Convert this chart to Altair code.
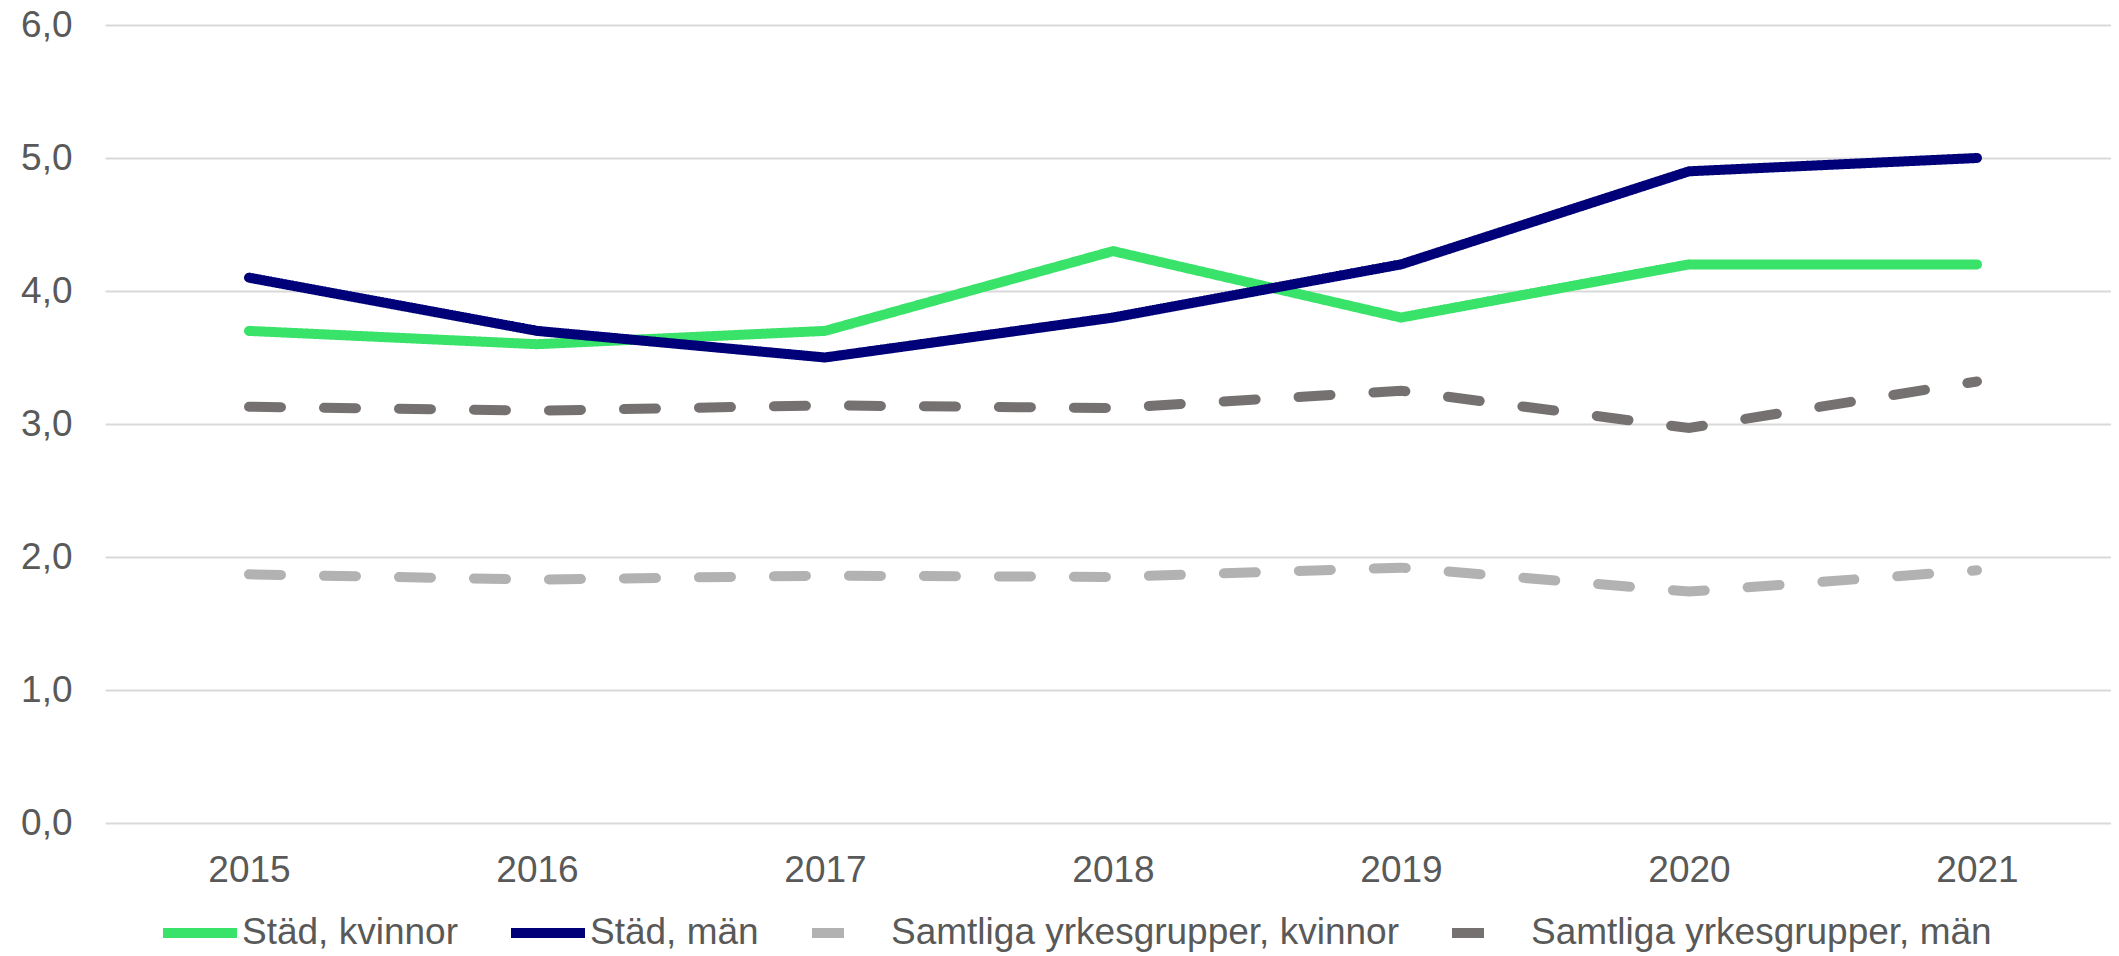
import altair as alt
import pandas as pd

years = [2015, 2016, 2017, 2018, 2019, 2020, 2021]
series_names = [
    "Städ, kvinnor",
    "Städ, män",
    "Samtliga yrkesgrupper, kvinnor",
    "Samtliga yrkesgrupper, män",
]
stad_kvinnor = [3.7, 3.6, 3.7, 4.3, 3.8, 4.2, 4.2]
stad_man = [4.1, 3.7, 3.5, 3.8, 4.2, 4.9, 5.0]
samtliga_kvinnor = [1.87, 1.83, 1.86, 1.85, 1.92, 1.74, 1.90]
samtliga_man = [3.13, 3.10, 3.14, 3.12, 3.25, 2.97, 3.32]
colors = ["#39E36A", "#000078", "#B2B2B2", "#767171"]
dashes = [[1, 0], [1, 0], [32, 43], [32, 43]]
y_ticks = [0, 1, 2, 3, 4, 5, 6]

rows = []
for name, vals in zip(series_names, [stad_kvinnor, stad_man, samtliga_kvinnor, samtliga_man]):
    for yr, v in zip(years, vals):
        rows.append({"year": yr, "value": v, "series": name})
df = pd.DataFrame(rows)

FONT = "Liberation Sans"
TXT = "#595959"
FS = 37

legend = alt.Legend(
    title=None, orient="none", legendX=53, legendY=866,
    direction="horizontal", columns=4, symbolType="stroke",
    symbolStrokeWidth=10, symbolSize=5476, labelFontSize=FS,
    labelColor=TXT, labelFont=FONT, labelOffset=0, columnPadding=33,
    labelLimit=1000,
)

chart = (
    alt.Chart(df)
    .mark_line(strokeWidth=10, strokeCap="round")
    .encode(
        x=alt.X(
            "year:O",
            scale=alt.Scale(type="point", range=[0, 2016], padding=0.5),
            axis=alt.Axis(
                title=None, labelAngle=0, ticks=False, domain=False, grid=False,
                labelFontSize=FS, labelColor=TXT, labelFont=FONT, labelPadding=29,
            ),
        ),
        y=alt.Y(
            "value:Q",
            scale=alt.Scale(domain=[0, 6], nice=False),
            axis=alt.Axis(
                title=None, values=y_ticks, ticks=False, domain=False,
                labelExpr="replace(format(datum.value, '.1f'), '.', ',')",
                labelFontSize=FS, labelColor=TXT, labelFont=FONT, labelPadding=33,
                gridColor="#D9D9D9", gridWidth=2,
            ),
        ),
        color=alt.Color(
            "series:N",
            scale=alt.Scale(domain=series_names, range=colors),
            legend=legend,
        ),
        strokeDash=alt.StrokeDash(
            "series:N",
            scale=alt.Scale(domain=series_names, range=dashes),
            legend=legend,
        ),
    )
    .properties(
        width=2006,
        height=798,
        autosize=alt.AutoSizeParams(type="none"),
        padding={"left": 97, "top": 17, "right": 0, "bottom": 131},
    )
    .configure_view(stroke=None)
)

chart.save("out.html", embed_options={"renderer": "svg", "actions": False})
